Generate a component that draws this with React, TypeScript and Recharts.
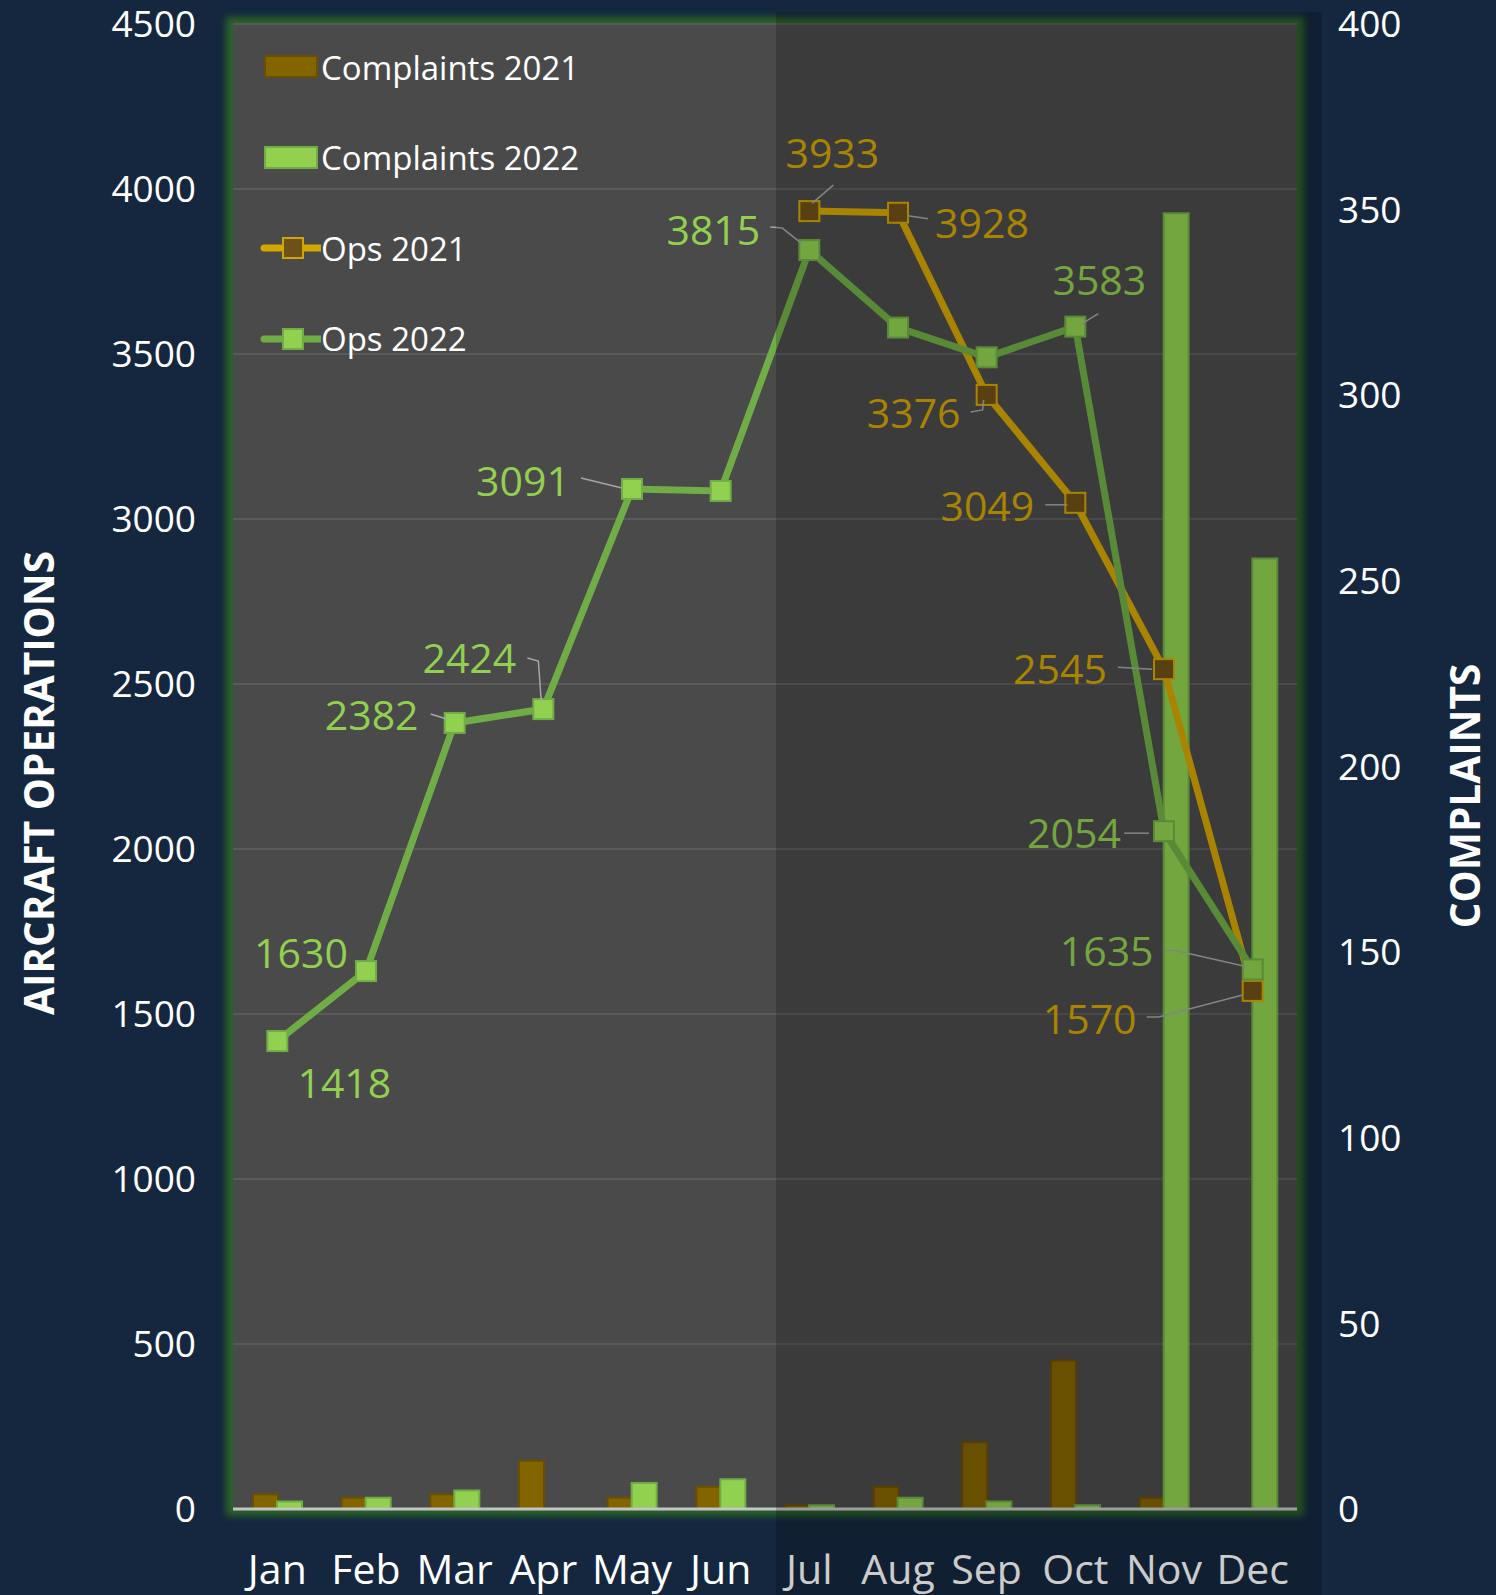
import React from "react";
import {
  ComposedChart,
  Bar,
  Line,
  XAxis,
  YAxis,
  CartesianGrid,
  Legend,
  LabelList,
} from "recharts";

const months = ["Jan", "Feb", "Mar", "Apr", "May", "Jun", "Jul", "Aug", "Sep", "Oct", "Nov", "Dec"];
const complaints2021 = [4, 3, 4, 13, 3, 6, 1, 6, 18, 40, 3, 0];
const complaints2022 = [2, 3, 5, 0, 7, 8, 1, 3, 2, 1, 349, 256];
const ops2021 = [null, null, null, null, null, null, 3933, 3928, 3376, 3049, 2545, 1570];
const ops2022 = [1418, 1630, 2382, 2424, 3091, 3085, 3815, 3580, 3490, 3583, 2054, 1635];
const opsTicks = [0, 500, 1000, 1500, 2000, 2500, 3000, 3500, 4000, 4500];
const complaintTicks = [0, 50, 100, 150, 200, 250, 300, 350, 400];

const data = months.map((m, i) => ({
  month: m,
  c2021: complaints2021[i],
  c2022: complaints2022[i],
  o2021: ops2021[i],
  o2022: ops2022[i],
}));

// label placement relative to each point (dx, dy of text centre, leader polyline)
type LabelPos = { dx: number; dy: number; leader?: number[][] };
const ops2022Labels: Record<number, LabelPos> = {
  0: { dx: 67, dy: 42 },
  1: { dx: -65, dy: -18 },
  2: { dx: -83, dy: -8, leader: [[-24, -9], [-8, -4]] },
  3: { dx: -74, dy: -51, leader: [[-16, -51], [-5, -48], [-2, -7]] },
  4: { dx: -109, dy: -8, leader: [[-51, -11], [-10, -1]] },
  6: { dx: -96, dy: -20, leader: [[-39, -23], [-27, -22], [-7, -6]] },
  9: { dx: 24, dy: -46, leader: [[5, -2], [23, -13]] },
  10: { dx: -90, dy: 2, leader: [[-40, 2], [-15, 2]] },
  11: { dx: -146, dy: -18, leader: [[-88, -20], [-73, -18], [-7, -3]] },
};
const ops2021Labels: Record<number, LabelPos> = {
  6: { dx: 23, dy: -58, leader: [[3, -8], [24, -26]] },
  7: { dx: 84, dy: 10, leader: [[10, 3], [30, 6]] },
  8: { dx: -73, dy: 18, leader: [[-16, 17], [-4, 15], [-3, 5]] },
  9: { dx: -88, dy: 3, leader: [[-30, 2], [-8, 2]] },
  10: { dx: -104, dy: 0, leader: [[-46, -2], [-12, 0]] },
  11: { dx: -163, dy: 28, leader: [[-106, 26], [-94, 26], [-10, 4]] },
};

const W = 1496;
const H = 1595;
const MARGIN = { top: 24, right: 78, bottom: 0, left: 73 };
const LEFT_W = 160;
const RIGHT_W = 121;
const XAXIS_H = 86;
const PLOT_LEFT = MARGIN.left + LEFT_W;
const PLOT_TOP = MARGIN.top;
const PLOT_W = W - PLOT_LEFT - MARGIN.right - RIGHT_W;
const PLOT_H = H - PLOT_TOP - XAXIS_H;

const FONT = "'Open Sans', 'Noto Sans', sans-serif";
const NAVY = "#14273f";
const GOLD = "#d4a600";
const GOLD_BAR = "#836500";
const GREEN_LINE = "#70ad47";
const GREEN_LIGHT = "#92d050";

const makeLabel = (layout: Record<number, LabelPos>, color: string) => (props: any) => {
  const { index, value } = props;
  const pos = layout[index];
  if (pos == null || value == null) return null;
  const x = props.x ?? props.viewBox?.x;
  const y = props.y ?? props.viewBox?.y;
  const pts = pos.leader ? pos.leader.map(([a, b]) => `${x + a},${y + b}`).join(" ") : null;
  return (
    <g key={`lbl-${index}`}>
      {pts && <polyline points={pts} fill="none" stroke="#a6a6a6" strokeWidth={1.5} />}
      <text
        x={x + pos.dx}
        y={y + pos.dy}
        dy="0.36em"
        textAnchor="middle"
        fill={color}
        fontSize={41}
        fontFamily={FONT}
      >
        {value}
      </text>
    </g>
  );
};

const squareDot = (fill: string, stroke: string) => (props: any) => {
  const { cx, cy, index, value } = props;
  if (value == null || cx == null || cy == null) return <g key={`d-${index}`} />;
  return (
    <rect
      key={`d-${index}`}
      x={cx - 10}
      y={cy - 10}
      width={20}
      height={20}
      fill={fill}
      stroke={stroke}
      strokeWidth={2}
    />
  );
};

const legendItems = [
  { name: "Complaints 2021", kind: "bar", fill: GOLD_BAR, stroke: "#6b4f00" },
  { name: "Complaints 2022", kind: "bar", fill: GREEN_LIGHT, stroke: GREEN_LINE },
  { name: "Ops 2021", kind: "line", fill: "#6e5118", stroke: GOLD },
  { name: "Ops 2022", kind: "line", fill: GREEN_LIGHT, stroke: GREEN_LINE },
];

const renderLegend = () => (
  <div style={{ fontFamily: FONT, fontSize: 33, color: "#ffffff" }}>
    {legendItems.map((it) => (
      <div key={it.name} style={{ display: "flex", alignItems: "center", height: 90.5 }}>
        <svg width={62} height={30}>
          {it.kind === "bar" ? (
            <rect x={6} y={4} width={52} height={21} fill={it.fill} stroke={it.stroke} strokeWidth={2} />
          ) : (
            <g>
              <line x1={5} y1={15} x2={62} y2={15} stroke={it.stroke} strokeWidth={7} strokeLinecap="round" />
              <rect x={24} y={5} width={20} height={20} fill={it.fill} stroke={it.stroke} strokeWidth={2} />
            </g>
          )}
        </svg>
        <span style={{ lineHeight: 1 }}>{it.name}</span>
      </div>
    ))}
  </div>
);

const axisTitle = (text: string, cx: number, cy: number) => () => (
  <text
    x={cx}
    y={cy}
    transform={`rotate(-90 ${cx} ${cy})`}
    textAnchor="middle"
    dy="0.36em"
    fill="#ffffff"
    fontSize={40.5}
    fontWeight={700}
    fontFamily={FONT}
  >
    {text}
  </text>
);

export default function App() {
  return (
    <div
      style={{
        position: "absolute",
        left: 0,
        top: 0,
        width: W,
        height: H,
        background: NAVY,
        overflow: "hidden",
      }}
    >
      {/* plot background with green glow */}
      <div
        style={{
          position: "absolute",
          left: PLOT_LEFT,
          top: PLOT_TOP,
          width: PLOT_W,
          height: PLOT_H,
          background: "#4a4a4a",
          boxShadow: "0 0 7px 7px #2b6328",
        }}
      />
      <div style={{ position: "absolute", left: 0, top: 0 }}>
        <ComposedChart width={W} height={H} data={data} margin={MARGIN} barGap={-1}>
          <CartesianGrid horizontal vertical={false} stroke="#5a5a5a" strokeWidth={2} yAxisId="left" />
          <XAxis
            dataKey="month"
            height={XAXIS_H}
            tickSize={0}
            tickMargin={46}
            axisLine={{ stroke: "#c4c4c4", strokeWidth: 3 }}
            tickLine={false}
            tick={{ fill: "#ffffff", fontSize: 41, fontFamily: FONT }}
            interval={0}
          />
          <YAxis
            yAxisId="left"
            orientation="left"
            width={LEFT_W}
            domain={[0, 4500]}
            ticks={opsTicks}
            interval={0}
            tickSize={0}
            tickMargin={37}
            axisLine={false}
            tickLine={false}
            tick={{ fill: "#ffffff", fontSize: 37, fontFamily: FONT }}
            label={axisTitle("AIRCRAFT OPERATIONS", 39, 783)}
          />
          <YAxis
            yAxisId="right"
            orientation="right"
            width={RIGHT_W}
            domain={[0, 400]}
            ticks={complaintTicks}
            interval={0}
            tickSize={0}
            tickMargin={41}
            axisLine={false}
            tickLine={false}
            tick={{ fill: "#ffffff", fontSize: 37, fontFamily: FONT, textAnchor: "start" }}
            label={axisTitle("COMPLAINTS", 1465, 796)}
          />
          <Legend
            layout="vertical"
            align="center"
            verticalAlign="middle"
            content={renderLegend}
            wrapperStyle={{ left: 259, top: 22, width: 380, height: 362 }}
          />
          <Bar
            yAxisId="right"
            dataKey="c2021"
            name="Complaints 2021"
            barSize={25}
            fill={GOLD_BAR}
            stroke="#6b4f00"
            strokeWidth={2}
            isAnimationActive={false}
          />
          <Bar
            yAxisId="right"
            dataKey="c2022"
            name="Complaints 2022"
            barSize={25}
            fill={GREEN_LIGHT}
            stroke={GREEN_LINE}
            strokeWidth={2}
            isAnimationActive={false}
          />
          <Line
            yAxisId="left"
            dataKey="o2021"
            name="Ops 2021"
            stroke={GOLD}
            strokeWidth={7}
            dot={squareDot("#6e5118", GOLD)}
            activeDot={false}
            isAnimationActive={false}
          >
            <LabelList dataKey="o2021" content={makeLabel(ops2021Labels, GOLD)} />
          </Line>
          <Line
            yAxisId="left"
            dataKey="o2022"
            name="Ops 2022"
            stroke={GREEN_LINE}
            strokeWidth={7}
            dot={squareDot(GREEN_LIGHT, GREEN_LINE)}
            activeDot={false}
            isAnimationActive={false}
          >
            <LabelList dataKey="o2022" content={makeLabel(ops2022Labels, GREEN_LIGHT)} />
          </Line>
        </ComposedChart>
      </div>
      {/* darker shading over the second half of the year */}
      <div
        style={{
          position: "absolute",
          left: PLOT_LEFT + 543,
          top: 12,
          width: PLOT_W - 543 + 25,
          height: H - 12,
          background: "rgba(0,0,0,0.2)",
          pointerEvents: "none",
        }}
      />
    </div>
  );
}
